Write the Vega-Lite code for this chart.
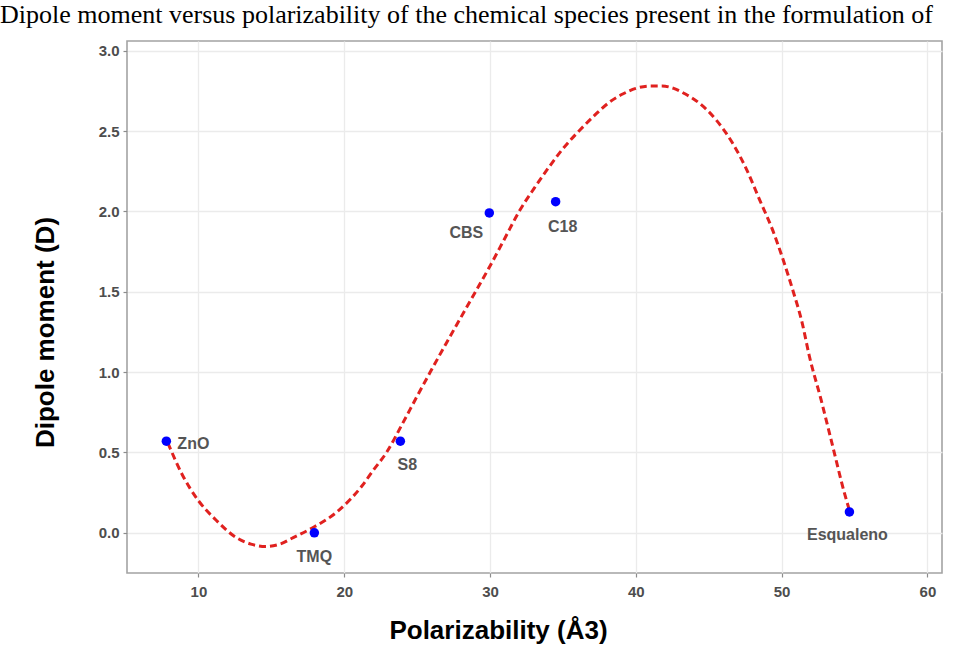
{
  "$schema": "https://vega.github.io/schema/vega-lite/v6.json",
  "autosize": {"type": "none"},
  "width": 815,
  "height": 532,
  "padding": {"left": 127, "top": 41, "right": 26, "bottom": 87},
  "background": "white",
  "title": {
    "text": "Dipole moment versus polarizability of the chemical species present in the formulation of",
    "anchor": "start",
    "frame": "group",
    "font": "Liberation Serif",
    "fontSize": 26,
    "fontWeight": "normal",
    "color": "black",
    "baseline": "alphabetic",
    "offset": 0,
    "dx": -127,
    "dy": 8
  },
  "datasets": {
    "points": [
      {"species": "ZnO", "polarizability": 7.8, "dipole": 0.57},
      {"species": "TMQ", "polarizability": 17.95, "dipole": 0.0},
      {"species": "S8", "polarizability": 23.85, "dipole": 0.57},
      {"species": "CBS", "polarizability": 29.95, "dipole": 1.99},
      {"species": "C18", "polarizability": 34.5, "dipole": 2.06},
      {"species": "Esqualeno", "polarizability": 54.65, "dipole": 0.13}
    ],
    "fit": [
      {"polarizability": 7.9, "dipole": 0.56},
      {"polarizability": 8.9, "dipole": 0.36},
      {"polarizability": 10.0, "dipole": 0.2},
      {"polarizability": 11.2, "dipole": 0.08},
      {"polarizability": 12.6, "dipole": -0.03},
      {"polarizability": 13.6, "dipole": -0.07},
      {"polarizability": 14.6, "dipole": -0.085},
      {"polarizability": 15.6, "dipole": -0.07},
      {"polarizability": 16.5, "dipole": -0.03},
      {"polarizability": 17.8, "dipole": 0.03},
      {"polarizability": 19.5, "dipole": 0.13},
      {"polarizability": 21.2, "dipole": 0.29},
      {"polarizability": 22.0, "dipole": 0.39},
      {"polarizability": 22.9, "dipole": 0.5},
      {"polarizability": 24.0, "dipole": 0.68},
      {"polarizability": 25.0, "dipole": 0.85},
      {"polarizability": 25.9, "dipole": 1.0},
      {"polarizability": 27.0, "dipole": 1.18},
      {"polarizability": 28.0, "dipole": 1.34},
      {"polarizability": 29.0, "dipole": 1.5},
      {"polarizability": 30.0, "dipole": 1.66},
      {"polarizability": 31.0, "dipole": 1.83},
      {"polarizability": 32.0, "dipole": 2.0},
      {"polarizability": 33.0, "dipole": 2.14},
      {"polarizability": 34.0, "dipole": 2.27},
      {"polarizability": 35.0, "dipole": 2.39},
      {"polarizability": 36.1, "dipole": 2.5},
      {"polarizability": 37.2, "dipole": 2.6},
      {"polarizability": 38.2, "dipole": 2.68},
      {"polarizability": 39.1, "dipole": 2.73},
      {"polarizability": 40.0, "dipole": 2.765},
      {"polarizability": 41.0, "dipole": 2.78},
      {"polarizability": 41.8, "dipole": 2.78},
      {"polarizability": 42.6, "dipole": 2.765},
      {"polarizability": 43.4, "dipole": 2.73},
      {"polarizability": 44.4, "dipole": 2.67},
      {"polarizability": 45.5, "dipole": 2.57},
      {"polarizability": 46.6, "dipole": 2.43},
      {"polarizability": 47.6, "dipole": 2.26},
      {"polarizability": 48.5, "dipole": 2.07},
      {"polarizability": 49.4, "dipole": 1.88},
      {"polarizability": 50.1, "dipole": 1.7},
      {"polarizability": 50.8, "dipole": 1.5},
      {"polarizability": 51.4, "dipole": 1.31},
      {"polarizability": 51.9, "dipole": 1.1},
      {"polarizability": 52.7, "dipole": 0.83},
      {"polarizability": 53.5, "dipole": 0.54},
      {"polarizability": 54.3, "dipole": 0.25},
      {"polarizability": 54.65, "dipole": 0.14}
    ]
  },
  "config": {
    "view": {"stroke": "#a3a3a3", "strokeWidth": 1.6},
    "axis": {
      "labelFont": "Liberation Sans",
      "labelFontWeight": "bold",
      "labelFontSize": 15,
      "labelColor": "#4d4d4d",
      "tickColor": "#8c8c8c",
      "tickSize": 4,
      "tickWidth": 1.2,
      "domain": false,
      "gridColor": "#ebebeb",
      "gridWidth": 1.3,
      "titleFont": "Liberation Sans",
      "titleFontWeight": "bold",
      "titleFontSize": 26,
      "titleColor": "black"
    }
  },
  "encoding": {
    "x": {
      "field": "polarizability",
      "type": "quantitative",
      "scale": {"domain": [5.1, 61], "nice": false, "zero": false},
      "axis": {
        "values": [10, 20, 30, 40, 50, 60],
        "format": "d",
        "labelPadding": 7,
        "title": "Polarizability (Å3)",
        "titleX": 371,
        "titleY": 65,
        "titleAlign": "center",
        "titleBaseline": "alphabetic"
      }
    },
    "y": {
      "field": "dipole",
      "type": "quantitative",
      "scale": {"domain": [-0.25, 3.06], "nice": false, "zero": false},
      "axis": {
        "values": [0, 0.5, 1, 1.5, 2, 2.5, 3],
        "format": ".1f",
        "labelPadding": 4,
        "title": "Dipole moment (D)",
        "titleX": -74,
        "titleY": 291,
        "titleAngle": -90,
        "titleAlign": "center",
        "titleBaseline": "alphabetic"
      }
    }
  },
  "layer": [
    {
      "data": {"name": "fit"},
      "mark": {"type": "line", "color": "#e0211f", "strokeWidth": 3, "strokeDash": [7, 4], "interpolate": "monotone"}
    },
    {
      "data": {"name": "points"},
      "mark": {"type": "point", "filled": true, "color": "#0000ff", "opacity": 1, "size": 90}
    },
    {
      "data": {"name": "points"},
      "transform": [{"filter": "datum.species === 'ZnO'"}],
      "mark": {"type": "text", "align": "left", "baseline": "middle", "dx": 11, "dy": 3, "font": "Liberation Sans", "fontWeight": "bold", "fontSize": 16, "color": "#555555"},
      "encoding": {"text": {"field": "species"}}
    },
    {
      "data": {"name": "points"},
      "transform": [{"filter": "datum.species === 'TMQ'"}],
      "mark": {"type": "text", "align": "center", "baseline": "middle", "dx": 0, "dy": 24, "font": "Liberation Sans", "fontWeight": "bold", "fontSize": 16, "color": "#555555"},
      "encoding": {"text": {"field": "species"}}
    },
    {
      "data": {"name": "points"},
      "transform": [{"filter": "datum.species === 'S8'"}],
      "mark": {"type": "text", "align": "center", "baseline": "middle", "dx": 7, "dy": 24, "font": "Liberation Sans", "fontWeight": "bold", "fontSize": 16, "color": "#555555"},
      "encoding": {"text": {"field": "species"}}
    },
    {
      "data": {"name": "points"},
      "transform": [{"filter": "datum.species === 'CBS'"}],
      "mark": {"type": "text", "align": "center", "baseline": "middle", "dx": -23, "dy": 20, "font": "Liberation Sans", "fontWeight": "bold", "fontSize": 16, "color": "#555555"},
      "encoding": {"text": {"field": "species"}}
    },
    {
      "data": {"name": "points"},
      "transform": [{"filter": "datum.species === 'C18'"}],
      "mark": {"type": "text", "align": "center", "baseline": "middle", "dx": 7, "dy": 25, "font": "Liberation Sans", "fontWeight": "bold", "fontSize": 16, "color": "#555555"},
      "encoding": {"text": {"field": "species"}}
    },
    {
      "data": {"name": "points"},
      "transform": [{"filter": "datum.species === 'Esqualeno'"}],
      "mark": {"type": "text", "align": "center", "baseline": "middle", "dx": -2, "dy": 23, "font": "Liberation Sans", "fontWeight": "bold", "fontSize": 16, "color": "#555555"},
      "encoding": {"text": {"field": "species"}}
    }
  ]
}
